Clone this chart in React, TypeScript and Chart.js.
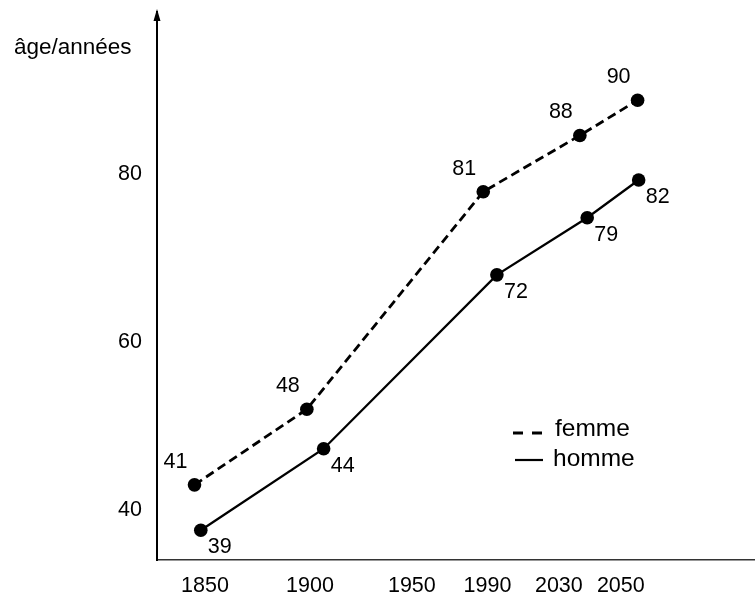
import React, { useEffect, useRef } from 'react';
import { Chart, registerables } from 'chart.js';

Chart.register(...registerables);

// x tick labels and their positions along the (schematic) horizontal axis
const years = ['1850', '1900', '1950', '1990', '2030', '2050'];
const yearTickPos = [0, 1, 1.97, 2.69, 3.37, 3.96];

// y axis ticks
const yTicks = [40, 60, 80];

// series names
const seriesNames = ['femme', 'homme'];

// femme: plotted positions (as drawn) and printed values
const femmeX = [-0.1, 0.97, 2.65, 3.57, 4.12];
const femmeY = [43.0, 52.0, 77.9, 84.6, 88.8];
const femmeLabels = [41, 48, 81, 88, 90];

// homme: plotted positions (as drawn) and printed values
const hommeX = [-0.04, 1.13, 2.78, 3.64, 4.13];
const hommeY = [37.6, 47.3, 68.0, 74.8, 79.3];
const hommeLabels = [39, 44, 72, 79, 82];

const axisTitle = 'âge/années';

const FONT = '"Liberation Sans", Arial, Helvetica, sans-serif';
const INK = '#000';

export default function App() {
  const ref = useRef<HTMLCanvasElement | null>(null);

  useEffect(() => {
    const canvas = ref.current;
    if (!canvas) return;

    const valueLabels = [femmeLabels, hommeLabels];
    const labelOffsets = [
      [-19, -23],
      [19, 17],
    ];

    const labelPlugin = {
      id: 'valueLabels',
      afterDatasetsDraw(chart: any) {
        const c = chart.ctx;
        c.save();
        c.font = `21.5px ${FONT}`;
        c.fillStyle = INK;
        c.textAlign = 'center';
        c.textBaseline = 'middle';
        chart.data.datasets.forEach((_ds: any, i: number) => {
          const meta = chart.getDatasetMeta(i);
          const off = labelOffsets[i];
          meta.data.forEach((pt: any, j: number) => {
            c.fillText(String(valueLabels[i][j]), pt.x + off[0], pt.y + off[1]);
          });
        });
        c.restore();
      },
    };

    const decorPlugin = {
      id: 'decor',
      afterDraw(chart: any) {
        const c = chart.ctx;
        const area = chart.chartArea;
        c.save();
        // arrow on top of y axis
        c.fillStyle = INK;
        c.beginPath();
        c.moveTo(area.left, area.top - 3);
        c.lineTo(area.left - 3.5, area.top + 9);
        c.lineTo(area.left + 3.5, area.top + 9);
        c.closePath();
        c.fill();

        // axis title
        c.font = `22.5px ${FONT}`;
        c.textAlign = 'left';
        c.textBaseline = 'middle';
        c.fillText(axisTitle, 14, 48);

        // legend
        const lx = area.left + 356;
        c.strokeStyle = INK;
        c.lineWidth = 2.8;
        c.setLineDash([10, 9]);
        c.beginPath();
        c.moveTo(lx, 433);
        c.lineTo(lx + 30, 433);
        c.stroke();
        c.setLineDash([]);
        c.lineWidth = 2.2;
        c.beginPath();
        c.moveTo(lx + 2, 460);
        c.lineTo(lx + 30, 460);
        c.stroke();
        c.font = `24.5px ${FONT}`;
        c.fillText(seriesNames[0], lx + 42, 429);
        c.fillText(seriesNames[1], lx + 40, 459);
        c.restore();
      },
    };

    const chart = new Chart(canvas, {
      type: 'line',
      data: {
        datasets: [
          {
            label: seriesNames[0],
            data: femmeX.map((x, i) => ({ x, y: femmeY[i] })),
            borderColor: INK,
            backgroundColor: INK,
            borderWidth: 2.8,
            borderDash: [9, 5],
            pointRadius: 6.8,
            pointBorderWidth: 0,
            pointBackgroundColor: INK,
            fill: false,
            tension: 0,
          },
          {
            label: seriesNames[1],
            data: hommeX.map((x, i) => ({ x, y: hommeY[i] })),
            borderColor: INK,
            backgroundColor: INK,
            borderWidth: 2.3,
            pointRadius: 6.8,
            pointBorderWidth: 0,
            pointBackgroundColor: INK,
            fill: false,
            tension: 0,
          },
        ],
      },
      options: {
        responsive: false,
        animation: false,
        devicePixelRatio: 1,
        layout: { autoPadding: false, padding: { top: 12, left: 0, right: 0, bottom: 0 } },
        plugins: {
          legend: { display: false },
          tooltip: { enabled: false },
          title: { display: false },
        },
        scales: {
          x: {
            type: 'linear',
            min: -0.457,
            max: 5.238,
            grid: { display: false, drawTicks: false },
            border: { display: true, color: '#333', width: 1.5, dash: [7, 3] },
            afterBuildTicks: (axis: any) => {
              axis.ticks = yearTickPos.map((v) => ({ value: v }));
            },
            afterFit: (scale: any) => {
              scale.height = 37;
              scale.paddingLeft = 0;
              scale.paddingRight = 0;
            },
            ticks: {
              autoSkip: false,
              maxRotation: 0,
              padding: 13,
              color: INK,
              font: { family: FONT, size: 21.5 },
              callback: (_v: any, i: number) => years[i],
            },
          },
          y: {
            type: 'linear',
            min: 34.05,
            max: 99.3,
            grid: { display: false, drawTicks: false },
            border: { display: true, color: INK, width: 2 },
            afterBuildTicks: (axis: any) => {
              axis.ticks = yTicks.map((v) => ({ value: v }));
            },
            afterFit: (scale: any) => {
              scale.width = 157;
              scale.paddingTop = 0;
              scale.paddingBottom = 0;
            },
            ticks: {
              padding: 15,
              color: INK,
              font: { family: FONT, size: 21.5 },
              callback: (v: any) => String(v),
            },
          },
        },
      },
      plugins: [labelPlugin, decorPlugin],
    } as any);

    return () => {
      chart.destroy();
    };
  }, []);

  return (
    <div style={{ position: 'absolute', left: 0, top: 0, width: 755, height: 597, background: '#fff' }}>
      <canvas ref={ref} width={755} height={597} style={{ display: 'block', width: 755, height: 597 }} />
    </div>
  );
}
